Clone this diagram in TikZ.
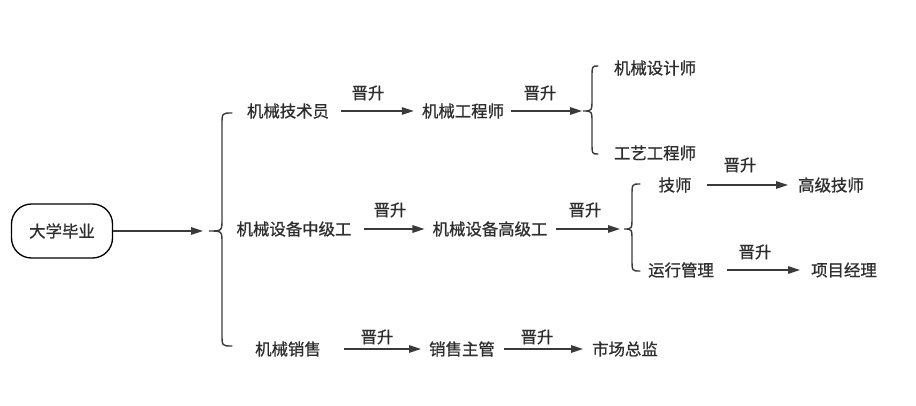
\documentclass[tikz,border=0pt]{standalone}
\usepackage{fontspec}
\setmainfont{Noto Sans CJK SC}[FakeBold=0.9]
\usetikzlibrary{arrows.meta}
\definecolor{txt}{HTML}{2E2E2E}
\definecolor{ln}{HTML}{3A3A3A}
\tikzset{
  lbl/.style={inner sep=0pt, font=\fontsize{16.4}{17}\selectfont, text=txt, anchor=center},
  arr/.style={draw=ln, line width=1.4pt, -{Triangle[length=12pt,width=7.5pt]}},
  bracepath/.style={draw=ln, line width=1.4pt, line cap=round},
  startbox/.style={draw=black, line width=1.3pt, rounded corners=20pt, minimum width=101pt, minimum height=54pt, inner sep=0pt, font=\fontsize{16.4}{17}\selectfont, text=txt}
}
\newcommand{\mybrace}[6]{% tip x, tip y, spine x, end x, top y, bottom y
  \draw[bracepath] (#4,#5) .. controls (#3,#5) .. (#3,#5+12) -- (#3,#2-12) .. controls (#3,#2) .. (#1,#2)
    .. controls (#3,#2) .. (#3,#2+12) -- (#3,#6-12) .. controls (#3,#6) .. (#4,#6);
}
\begin{document}
\begin{tikzpicture}[x=1pt,y=-1pt]
\useasboundingbox (0,0) rectangle (916,406);
% start
\node[startbox] (start) at (62,231) {大学毕业};
\coordinate (b1) at (209,231);
\coordinate (b1top) at (232,113);
\coordinate (b1bot) at (232,346);
\mybrace{209}{231}{222}{232}{113}{346}
\draw[arr] (start.east) -- ([xshift=-6pt]b1);

% row 1
\node[lbl] (n1) at (288,111) {机械技术员};
\node[lbl] (n2) at (463,111) {机械工程师};
\node[lbl] (p1) at (368,93) {晋升};
\node[lbl] (p2) at (540,93) {晋升};
\draw[arr] ([xshift=12pt]n1.east) -- ([xshift=-8pt]n2.west);
\coordinate (b2) at (583,111);
\draw[arr] ([xshift=7pt]n2.east) -- ([xshift=-1pt]b2);
\mybrace{583}{111}{592}{598}{66}{154}
\node[lbl] (n3) at (655,68) {机械设计师};
\node[lbl] (n4) at (655,153) {工艺工程师};

% row 2
\node[lbl] (n5) at (294,229) {机械设备中级工};
\node[lbl] (n6) at (490,229) {机械设备高级工};
\node[lbl] (p3) at (390,210) {晋升};
\node[lbl] (p4) at (585,210) {晋升};
\draw[arr] ([xshift=12pt]n5.east) -- ([xshift=-8pt]n6.west);
\coordinate (b3) at (624,229);
\draw[arr] ([xshift=8pt]n6.east) -- ([xshift=-4pt]b3);
\mybrace{624}{229}{632}{640}{184}{271}
\node[lbl] (n7) at (675,185) {技师};
\node[lbl] (n8) at (831,185) {高级技师};
\node[lbl] (p5) at (740,165) {晋升};
\draw[arr] ([xshift=15pt]n7.east) -- ([xshift=-10pt]n8.west);
\node[lbl] (n9) at (681,270) {运行管理};
\node[lbl] (n10) at (844,270) {项目经理};
\node[lbl] (p6) at (755,252) {晋升};
\draw[arr] ([xshift=13pt]n9.east) -- ([xshift=-11pt]n10.west);

% row 3
\node[lbl] (n11) at (288,349) {机械销售};
\node[lbl] (n12) at (462,349) {销售主管};
\node[lbl] (n13) at (625,349) {市场总监};
\node[lbl] (p7) at (377,337) {晋升};
\node[lbl] (p8) at (537,337) {晋升};
\draw[arr] ([xshift=23pt]n11.east) -- ([xshift=-8pt]n12.west);
\draw[arr] ([xshift=9pt]n12.east) -- ([xshift=-9pt]n13.west);
\end{tikzpicture}
\end{document}
